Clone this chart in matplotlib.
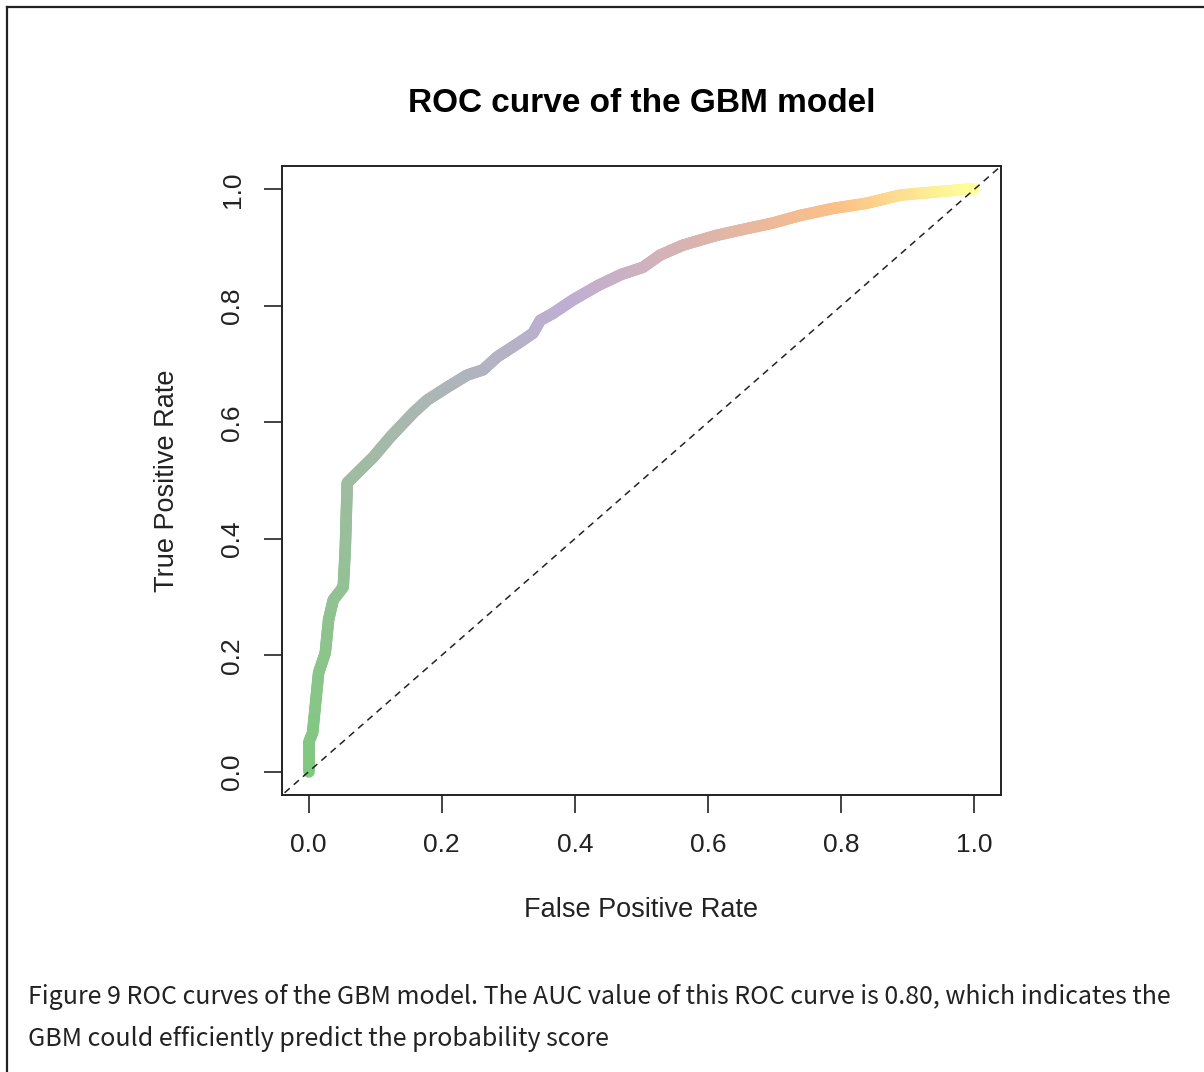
import numpy as np
import matplotlib.pyplot as plt
from matplotlib.collections import LineCollection
from matplotlib.colors import LinearSegmentedColormap
from matplotlib.lines import Line2D

# ROC curve points
fpr = [0.0, 0.0, 0.006, 0.015, 0.025, 0.030, 0.037, 0.052, 0.055, 0.058,
       0.073, 0.097, 0.123, 0.157, 0.178, 0.208, 0.238, 0.262, 0.283, 0.318,
       0.337, 0.348, 0.367, 0.397, 0.435, 0.470, 0.502, 0.528, 0.562, 0.613,
       0.648, 0.697, 0.738, 0.787, 0.838, 0.888, 0.937, 0.988, 1.0]
tpr = [0.0, 0.05, 0.067, 0.170, 0.204, 0.261, 0.295, 0.317, 0.381, 0.496,
       0.513, 0.540, 0.575, 0.616, 0.638, 0.660, 0.681, 0.690, 0.712, 0.738,
       0.753, 0.775, 0.787, 0.810, 0.835, 0.854, 0.866, 0.887, 0.904, 0.921,
       0.930, 0.942, 0.955, 0.967, 0.976, 0.990, 0.995, 1.0, 1.0]
ticks = [0.0, 0.2, 0.4, 0.6, 0.8, 1.0]
tick_labels = ['0.0', '0.2', '0.4', '0.6', '0.8', '1.0']

title = 'ROC curve of the GBM model'
caption = ('Figure 9 ROC curves of the GBM model. The AUC value of this ROC curve is 0.80, which indicates the\n'
           'GBM could efficiently predict the probability score')

plt.rcParams['font.family'] = ['Liberation Sans', 'DejaVu Sans']

W, H = 1204, 1072
fig = plt.figure(figsize=(W / 100, H / 100), dpi=100)
ax = fig.add_axes([282 / W, 1 - 795 / H, (1001 - 282) / W, (795 - 166) / H])

# colour along the curve (RColorBrewer Accent style)
cmap = LinearSegmentedColormap.from_list(
    'acc', [(0.0, '#7fc97f'), (0.30, '#9fbca0'), (0.58, '#beaed4'),
            (0.72, '#dab3b0'), (0.87, '#fdc086'), (1.0, '#ffff99')])
x = np.array(fpr)
y = np.array(tpr)
# dense path so the gradient is smooth
seg_len = np.hypot(np.diff(x) * 667, np.diff(y) * 583)
xs, ys = [x[0]], [y[0]]
for i in range(len(x) - 1):
    n = max(2, int(seg_len[i] / 2))
    t = np.linspace(0, 1, n + 1)[1:]
    xs.extend(x[i] + (x[i + 1] - x[i]) * t)
    ys.extend(y[i] + (y[i + 1] - y[i]) * t)
xs, ys = np.array(xs), np.array(ys)
s = np.concatenate([[0], np.cumsum(np.hypot(np.diff(xs) * 667, np.diff(ys) * 583))])
s = s / s[-1]
pts = np.column_stack([xs, ys]).reshape(-1, 1, 2)
segs = np.concatenate([pts[:-1], pts[1:]], axis=1)
lc = LineCollection(segs, colors=cmap((s[:-1] + s[1:]) / 2), linewidths=8.3,
                    capstyle='round', joinstyle='round')
ax.add_collection(lc)

ax.plot([-0.05, 1.05], [-0.05, 1.05], ls=(0, (4.5, 3.5)), color='#222222', lw=1.1)

ax.set_xlim(-0.04, 1.04)
ax.set_ylim(-0.04, 1.04)
ax.set_xticks(ticks)
ax.set_xticklabels(tick_labels)
ax.set_yticks(ticks)
ax.set_yticklabels(tick_labels, rotation=90, va='center')
ax.tick_params(direction='out', length=13, width=1.2, labelsize=19, pad=14,
               colors='#222222')
for sp in ax.spines.values():
    sp.set_linewidth(1.4)
    sp.set_color('#222222')

ax.set_xlabel('False Positive Rate', fontsize=19.5, labelpad=29, color='#222222')
ax.set_ylabel('True Positive Rate', fontsize=19.5, labelpad=29, color='#222222')
fig.text(641.5 / W, 1 - 103 / H, title, ha='center', va='center',
         fontsize=24, fontweight='bold')

fig.text(28 / W, 1 - 1018 / H, caption, ha='left', va='center', fontsize=18,
         family=['Noto Sans CJK SC', 'DejaVu Sans'], fontweight='light',
         linespacing=1.85, color='#222222')

# outer frame: top and left edges
fig.add_artist(Line2D([7 / W, 7 / W], [0, 1 - 7 / H], transform=fig.transFigure,
                      color='#222222', lw=1.6))
fig.add_artist(Line2D([7 / W, 1], [1 - 7 / H, 1 - 7 / H], transform=fig.transFigure,
                      color='#222222', lw=1.6))

fig.savefig('out.png', dpi=100)
